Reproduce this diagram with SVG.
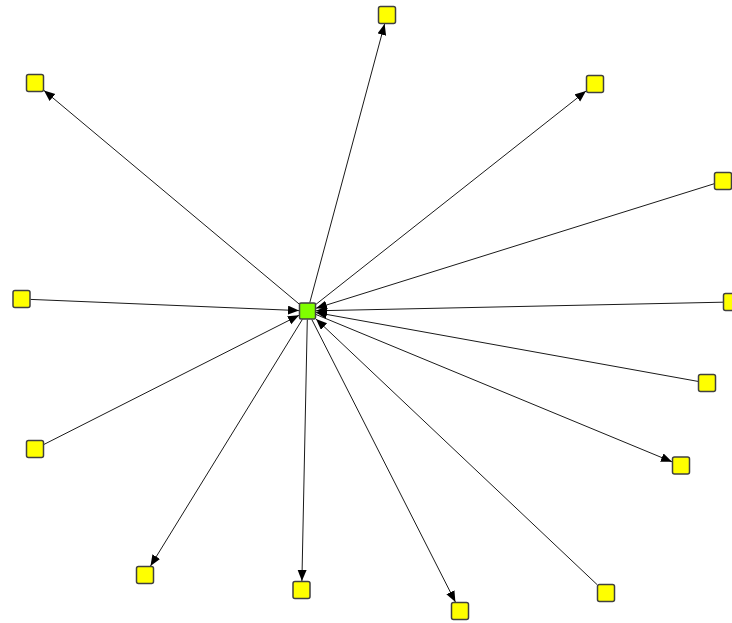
<svg xmlns="http://www.w3.org/2000/svg" width="732" height="623" viewBox="0 0 732 623">
<style>
.n rect{fill:#ffff00;stroke:#404040;stroke-width:1.5}
#hub rect{fill:#80ff00}
.e line{stroke:#1a1a1a;stroke-width:1;fill:none}
.a{marker-end:url(#arr)}
</style>
<defs>
<marker id="arr" markerUnits="userSpaceOnUse" markerWidth="12" markerHeight="10" refX="11" refY="4.5" orient="auto">
<path d="M0,0 L11,4.5 L0,9 z" fill="#000"/>
</marker>
</defs>
<rect width="732" height="623" fill="#fff"/>
<g id="connectors" class="e">
<line class="a" x1="309.8" y1="302.5" x2="384.6" y2="24"/>
<line class="a" x1="299" y1="303.9" x2="44" y2="90.5"/>
<line class="a" x1="316" y1="304.3" x2="586" y2="91.1"/>
<line class="a" x1="714" y1="183.8" x2="316" y2="308.3"/>
<line class="a" x1="30.5" y1="299.4" x2="299" y2="310.6"/>
<line class="a" x1="723" y1="302.2" x2="316" y2="310.8"/>
<line class="a" x1="698" y1="381.4" x2="316" y2="312.5"/>
<line class="a" x1="44" y1="444.4" x2="299" y2="315.3"/>
<line class="a" x1="316" y1="314.5" x2="672" y2="461.8"/>
<line class="a" x1="302.3" y1="319.5" x2="150.5" y2="566"/>
<line class="a" x1="307.3" y1="319.5" x2="301.9" y2="581"/>
<line class="a" x1="311.8" y1="319.5" x2="455.4" y2="602"/>
<line class="a" x1="597" y1="584.5" x2="316" y2="319"/>
</g>
<g id="hub" class="n"><rect x="299.5" y="303" width="16" height="16" rx="1.5"/></g>
<g id="n1" class="n"><rect x="378.5" y="6.5" width="17" height="17" rx="2"/></g>
<g id="n2" class="n"><rect x="26.5" y="74.5" width="17" height="17" rx="2"/></g>
<g id="n3" class="n"><rect x="586.5" y="75.5" width="17" height="17" rx="2"/></g>
<g id="n4" class="n"><rect x="714.5" y="172.5" width="17" height="17" rx="2"/></g>
<g id="n5" class="n"><rect x="13" y="290.5" width="17" height="17" rx="2"/></g>
<g id="n6" class="n"><rect x="723.5" y="293.5" width="17" height="17" rx="2"/></g>
<g id="n7" class="n"><rect x="698.5" y="374.5" width="17" height="17" rx="2"/></g>
<g id="n8" class="n"><rect x="26.5" y="440.5" width="17" height="17" rx="2"/></g>
<g id="n9" class="n"><rect x="672.5" y="457" width="17" height="17" rx="2"/></g>
<g id="n10" class="n"><rect x="136.5" y="566.5" width="17" height="17" rx="2"/></g>
<g id="n11" class="n"><rect x="293" y="581.5" width="17" height="17" rx="2"/></g>
<g id="n12" class="n"><rect x="451.5" y="602.5" width="17" height="17" rx="2"/></g>
<g id="n13" class="n"><rect x="597.5" y="584.5" width="17" height="17" rx="2"/></g>
</svg>
